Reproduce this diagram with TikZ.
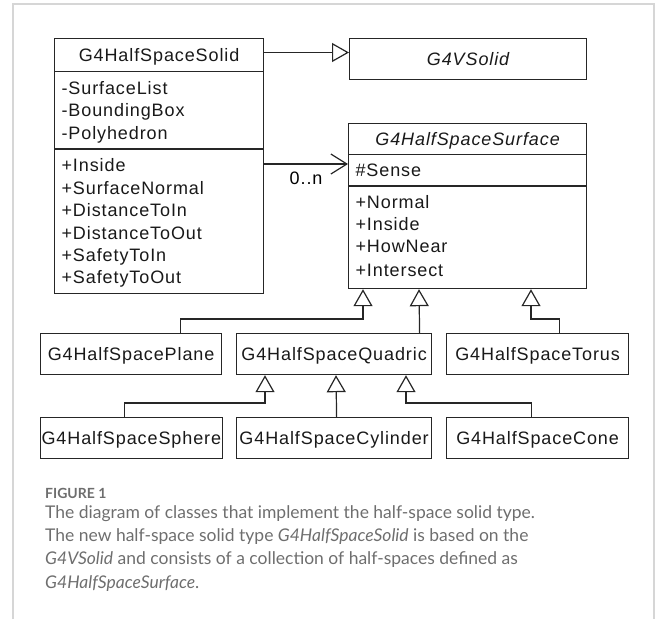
\documentclass[tikz,border=0pt]{standalone}
\usepackage{fontspec}
\usepackage{tikz}
\usetikzlibrary{positioning, shapes.multipart, arrows.meta}
\newfontfamily\umlfont{Liberation Sans}[LetterSpace=5]
\newfontfamily\capfont{Lato}
\definecolor{capgray}{HTML}{6E6E6E}
\definecolor{framegray}{HTML}{D6D6D6}
\newcommand{\ms}{\rule[-4.8pt]{0pt}{22.4pt}}
\tikzset{
  classbox/.style={rectangle, draw=black!85, line width=1.2pt, minimum height=41pt, inner xsep=7pt, inner ysep=4.6pt, font=\umlfont\fontsize{18}{22.4}\selectfont, text=black!90},
  umlclass/.style={classbox, minimum height=0pt, rectangle split, rectangle split parts=3, align=left, rectangle split part align={center,left,left}, anchor=north west},
  simplebox/.style={classbox, inner xsep=1pt, anchor=north west},
  inherit/.style={line width=1.2pt, draw=black!85, -{Triangle[open, length=17pt, width=19pt, fill=white]}},
  assoc/.style={line width=1.2pt, draw=black!85, -{Straight Barb[length=16pt, width=20pt]}},
}

\begin{document}
\begin{tikzpicture}[x=1pt, y=1pt]
  \useasboundingbox (0,0) rectangle (658,-619);

  % page frame
  \draw[framegray, line width=1.2pt] (13,-619) -- (13,-4) -- (654,-4) -- (654,-619);

  % classes
  \node[umlclass, minimum width=209pt] (solid) at (54,-38) {\ms G4HalfSpaceSolid
    \nodepart{second}\ms -SurfaceList\\\ms -BoundingBox\\\ms -Polyhedron
    \nodepart{third}\ms +Inside\\\ms +SurfaceNormal\\\ms +DistanceToIn\\\ms +DistanceToOut\\\ms +SafetyToIn\\\ms +SafetyToOut};
  \node[simplebox, minimum width=237pt] (vsolid) at (349,-38) {\itshape\ms G4VSolid};
  \node[umlclass, minimum width=238pt, inner ysep=3.8pt] (surface) at (348,-123) {{\itshape\ms G4HalfSpaceSurface}
    \nodepart{second}\ms \#Sense
    \nodepart{third}\ms +Normal\\\ms +Inside\\\ms +HowNear\\\rule[-8pt]{0pt}{25.6pt}+Intersect};

  \node[simplebox, minimum width=181pt] (plane) at (40,-333) {\ms G4HalfSpacePlane};
  \node[simplebox, minimum width=195pt] (quadric) at (236,-333) {\ms G4HalfSpaceQuadric};
  \node[simplebox, minimum width=182pt] (torus) at (446,-333) {\ms G4HalfSpaceTorus};
  \node[simplebox, minimum width=181pt] (sphere) at (40,-417) {\ms G4HalfSpaceSphere};
  \node[simplebox, minimum width=195pt] (cylinder) at (236,-417) {\ms G4HalfSpaceCylinder};
  \node[simplebox, minimum width=182pt] (cone) at (446,-417) {\ms G4HalfSpaceCone};

  % generalization and association
  \coordinate (genstart) at ([yshift=-14.5pt]solid.north east);
  \coordinate (assocstart) at ([yshift=-126pt]solid.north east);
  \draw[inherit] (genstart) -- (genstart -| vsolid.west);
  \draw[assoc] (assocstart) -- (assocstart -| surface.west)
    node[midway, below=5pt, inner sep=2pt, font=\umlfont\fontsize{18}{22.4}\selectfont] (mult) {0..n};

  % surface subclasses
  \draw[inherit] ([xshift=49.5pt]plane.north) -- ++(0,14) -| ([xshift=15pt]surface.south west);
  \draw[inherit] ([xshift=85.5pt]quadric.north) -- ([xshift=71pt]surface.south west);
  \draw[inherit] ([xshift=22pt]torus.north) -- ++(0,14) -| ([xshift=183pt]surface.south west);

  % quadric subclasses
  \draw[inherit] ([xshift=-6.5pt]sphere.north) -- ++(0,14) -| ([xshift=29pt]quadric.south west);
  \draw[inherit] ([xshift=2.5pt]cylinder.north) -- ([xshift=100pt]quadric.south west);
  \draw[inherit] ([xshift=-6pt]cone.north) -- ++(0,14) -| ([xshift=170pt]quadric.south west);

  % caption
  \node[anchor=base west, inner sep=0pt, font=\capfont\bfseries\fontsize{14}{16}\selectfont, text=capgray] (figlabel) at (45,-498) {FIGURE 1};
  \node[anchor=north west, inner sep=0pt, align=left, font=\capfont\fontsize{17.5}{23.3}\selectfont, text=capgray] (captext) at (45,-505) {The diagram of classes that implement the half-space solid type.\\
    The new half-space solid type \textit{G4HalfSpaceSolid} is based on the\\
    \textit{G4VSolid} and consists of a collection of half-spaces defined as\\
    \textit{G4HalfSpaceSurface}.};
\end{tikzpicture}
\end{document}
